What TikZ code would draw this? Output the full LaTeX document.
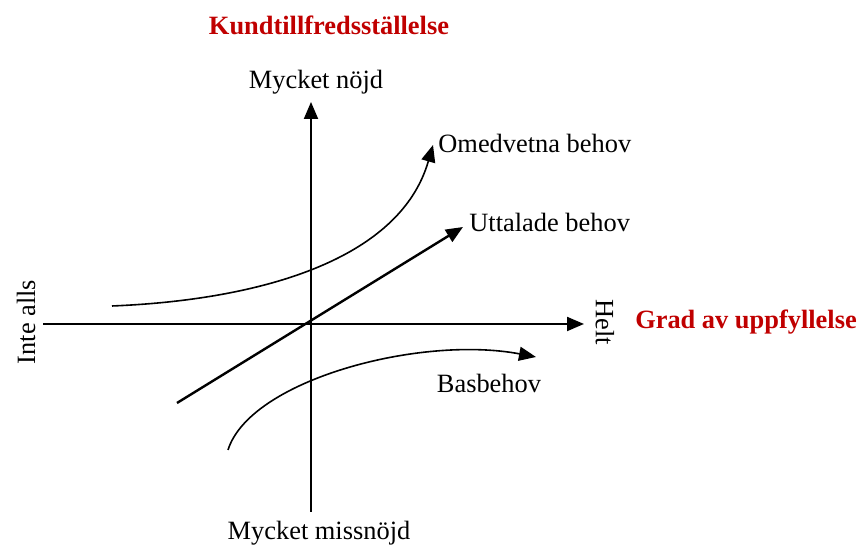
\documentclass[tikz,border=0pt]{standalone}
\usepackage{fontspec}
\setmainfont{Liberation Serif}
\usepackage{tikz}
\usetikzlibrary{arrows.meta, positioning}
\definecolor{darkred}{HTML}{C00000}
\tikzstyle{label} = [font=\fontsize{13.2}{15}\selectfont, inner sep=0pt]
\tikzstyle{title} = [font=\fontsize{13.2}{15}\selectfont\bfseries, text=darkred, inner sep=0pt]
\tikzstyle{axis} = [-{Triangle[length=8.5pt, width=7pt]}, line width=1pt]
\tikzstyle{curve} = [-{Triangle[length=8.5pt, width=7pt]}, line width=0.8pt]
\tikzstyle{line} = [-{Triangle[length=8.5pt, width=7pt]}, line width=1.2pt]

\begin{document}
\begin{tikzpicture}[x=0.5pt, y=0.5pt]
    \useasboundingbox (0,0) rectangle (859,549);
    % Coordinates
    \coordinate (left) at (43,225);
    \coordinate (right) at (584,225);
    \coordinate (bottom) at (311,37);
    \coordinate (top) at (311,447);
    \coordinate (omstart) at (112,243);
    \coordinate (omend) at (433,404);
    \coordinate (utstart) at (177,146);
    \coordinate (utend) at (463,322);
    \coordinate (basstart) at (228,99);
    \coordinate (basend) at (536,192);
    % Labels
    \node[title] (ytitle) at (329,524) {Kundtillfredsställelse};
    \node[label] (high) at (316,467) {Mycket nöjd};
    \node[label] (low) at (319,16) {Mycket missnöjd};
    \node[label, rotate=90] (none) at (26,227) {Inte alls};
    \node[label, rotate=-90] (full) at (605,227) {Helt};
    \node[title] (xtitle) at (746,227) {Grad av uppfyllelse};
    \node[label, anchor=west] (om) at (438,406) {Omedvetna behov};
    \node[label, anchor=west] (ut) at (469,327) {Uttalade behov};
    \node[label] (bas) at (489,166) {Basbehov};
    % Axes
    \draw[axis] (left) -- (right);
    \draw[axis] (bottom) -- (top);
    % Needs
    \draw[curve] (omstart) .. controls (260,249) and (400,289) .. (omend);
    \draw[line] (utstart) -- (utend);
    \draw[curve] (basstart) .. controls (250,169) and (420,214) .. (basend);
\end{tikzpicture}
\end{document}
